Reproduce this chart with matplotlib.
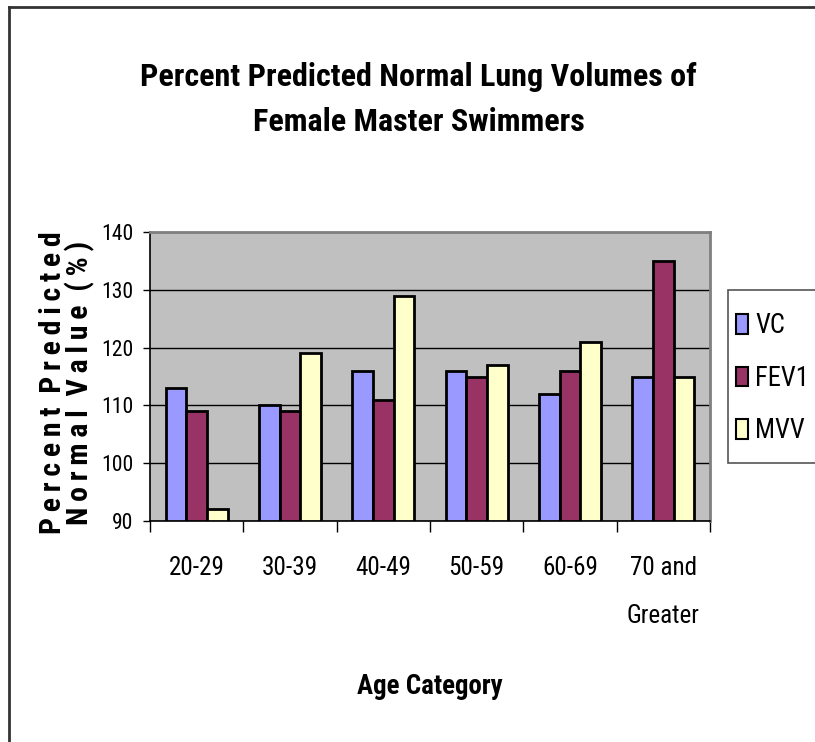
import matplotlib
matplotlib.use("Agg")
import matplotlib.pyplot as plt
import numpy as np
from matplotlib import font_manager as fm
from matplotlib.patches import Rectangle
from matplotlib.lines import Line2D

categories = ["20-29", "30-39", "40-49", "50-59", "60-69", "70 and\nGreater"]
series_names = ["VC", "FEV1", "MVV"]
vc = [113, 110, 116, 116, 112, 115]
fev1 = [109, 109, 111, 115, 116, 135]
mvv = [92, 119, 129, 117, 121, 115]
yticks = [90, 100, 110, 120, 130, 140]
colors = ["#9999FF", "#993366", "#FFFFCC"]

# ---- font selection: narrow sans, with a bold weight for the bold texts ----
fonts = fm.fontManager.ttflist

def wnum(f):
    w = f.weight
    if isinstance(w, str):
        return fm.weight_dict.get(w, 400) if not w.isdigit() else int(w)
    return int(w)

def has(name, bold=False):
    for f in fonts:
        if f.name == name and f.style == "normal" and not f.fname.endswith("].ttf"):
            if (wnum(f) >= 700) if bold else (350 <= wnum(f) <= 500):
                return True
    return False

reg_pref = ["Liberation Sans Narrow", "Roboto Condensed", "Archivo Narrow",
            "Barlow Semi Condensed", "Asap Condensed"]
bold_pref = ["Liberation Sans Narrow", "Roboto Condensed", "Barlow Semi Condensed",
             "Asap Condensed", "Cabin Condensed"]
REG = next((n for n in reg_pref if has(n)), None)
if REG is None:
    REG = next((f.name for f in fonts if "Narrow" in f.name), "DejaVu Sans")
BOLD = next((n for n in bold_pref if has(n, True)), "DejaVu Sans")
REG_FAM = [REG, "DejaVu Sans"]
BOLD_FAM = [BOLD, "DejaVu Sans"]
plt.rcParams["font.family"] = REG_FAM

fig = plt.figure(figsize=(8.15, 7.42), dpi=100)
fig.canvas.draw()
r = fig.canvas.get_renderer()

def size_for(s, target, fam, weight="normal", axis=0, rotation=0, **kw):
    t = fig.text(0, 0, s, fontsize=50, family=fam, fontweight=weight, rotation=rotation, **kw)
    bb = t.get_window_extent(r)
    t.remove()
    cur = bb.width if axis == 0 else bb.height
    return 50 * target / cur

TS = "\u2009"
ylab_text = (TS.join("Percent") + "  " + TS.join("Predicted") + "\n" +
             TS.join("Normal") + "  " + TS.join("Value") + "  " + TS.join("(%)"))
s_title = size_for("Percent Predicted Normal Lung Volumes of", 557, BOLD_FAM, "bold")
s_xlab = size_for("Age Category", 146, BOLD_FAM, "bold")
s_ylab = size_for(TS.join("Percent") + "  " + TS.join("Predicted"), 302, BOLD_FAM, "bold")
s_xtick = size_for("20-29", 56, REG_FAM)
s_ytick = size_for("140", 32, REG_FAM)
s_leg = size_for("FEV1", 54, REG_FAM)

ax = fig.add_axes([150/815, (742-521)/742, 560/815, 289/742])
ax.set_facecolor("#C0C0C0")

x = np.arange(len(categories))
w = 1/4.5
for i, (vals, name, c) in enumerate(zip([vc, fev1, mvv], series_names, colors)):
    ax.bar(x + (i - 1) * w, np.array(vals) - 90, bottom=90, width=w, color=c,
           edgecolor="black", linewidth=2, label=name, zorder=3)

ax.set_xlim(-0.5, len(categories) - 0.5)
ax.set_ylim(90, 140)
ax.set_yticks(yticks)
ax.set_yticklabels([str(t) for t in yticks], fontsize=s_ytick)
ax.yaxis.grid(True, color="black", linewidth=1, zorder=1)
ax.set_axisbelow(True)
ax.set_xticks(np.arange(len(categories) + 1) - 0.5)
ax.set_xticklabels([])
ax.set_xticks(x, minor=True)
ax.set_xticklabels(categories, minor=True, fontsize=s_xtick, linespacing=2.3, va="top")
ax.tick_params(axis="x", which="minor", length=0, pad=25)
ax.tick_params(axis="x", which="major", length=8, width=1, color="black", direction="out")
ax.tick_params(axis="y", length=5, width=1, color="black", direction="out", pad=7)
for s in ["top", "right"]:
    ax.spines[s].set_color("#808080")
    ax.spines[s].set_linewidth(2)
ax.spines["left"].set_color("black")
ax.spines["bottom"].set_color("black")
ax.spines["left"].set_linewidth(1.2)
ax.spines["bottom"].set_linewidth(1.2)

fig.text(418/815, 1 - 77/742, "Percent Predicted Normal Lung Volumes of",
         ha="center", va="center", fontsize=s_title, fontweight="bold", family=BOLD_FAM)
fig.text(419/815, 1 - 122/742, "Female Master Swimmers",
         ha="center", va="center", fontsize=s_title, fontweight="bold", family=BOLD_FAM)
fig.text(430/815, 1 - 686/742, "Age Category", ha="center", va="center",
         fontsize=s_xlab, fontweight="bold", family=BOLD_FAM)
fig.text(67/815, 1 - 383/742, ylab_text,
         ha="center", va="center", rotation=90, fontsize=s_ylab, fontweight="bold",
         family=BOLD_FAM, linespacing=0.95)

# figure border
fig.add_artist(Line2D([9/815, 9/815], [0, 1 - 7/742], transform=fig.transFigure, color="#333333", linewidth=2))
fig.add_artist(Line2D([9/815, 1], [1 - 7/742, 1 - 7/742], transform=fig.transFigure, color="#333333", linewidth=2))

# legend box
fig.add_artist(Rectangle((728/815, 1 - 463/742), 100/815, 173/742, transform=fig.transFigure,
                         facecolor="white", edgecolor="#555555", linewidth=1.2, clip_on=False))
fs_px = s_leg * 100 / 72
leg = fig.legend(loc="center left", bbox_to_anchor=(736/815, 1 - 378/742), frameon=False,
                 fontsize=s_leg, handlelength=12/fs_px, handleheight=20/fs_px,
                 handletextpad=7/fs_px, labelspacing=(56.5 - 1.17*fs_px)/fs_px,
                 borderpad=0, borderaxespad=0)
for h in leg.legend_handles:
    h.set_linewidth(1.5)

fig.savefig("out.png", dpi=100)
